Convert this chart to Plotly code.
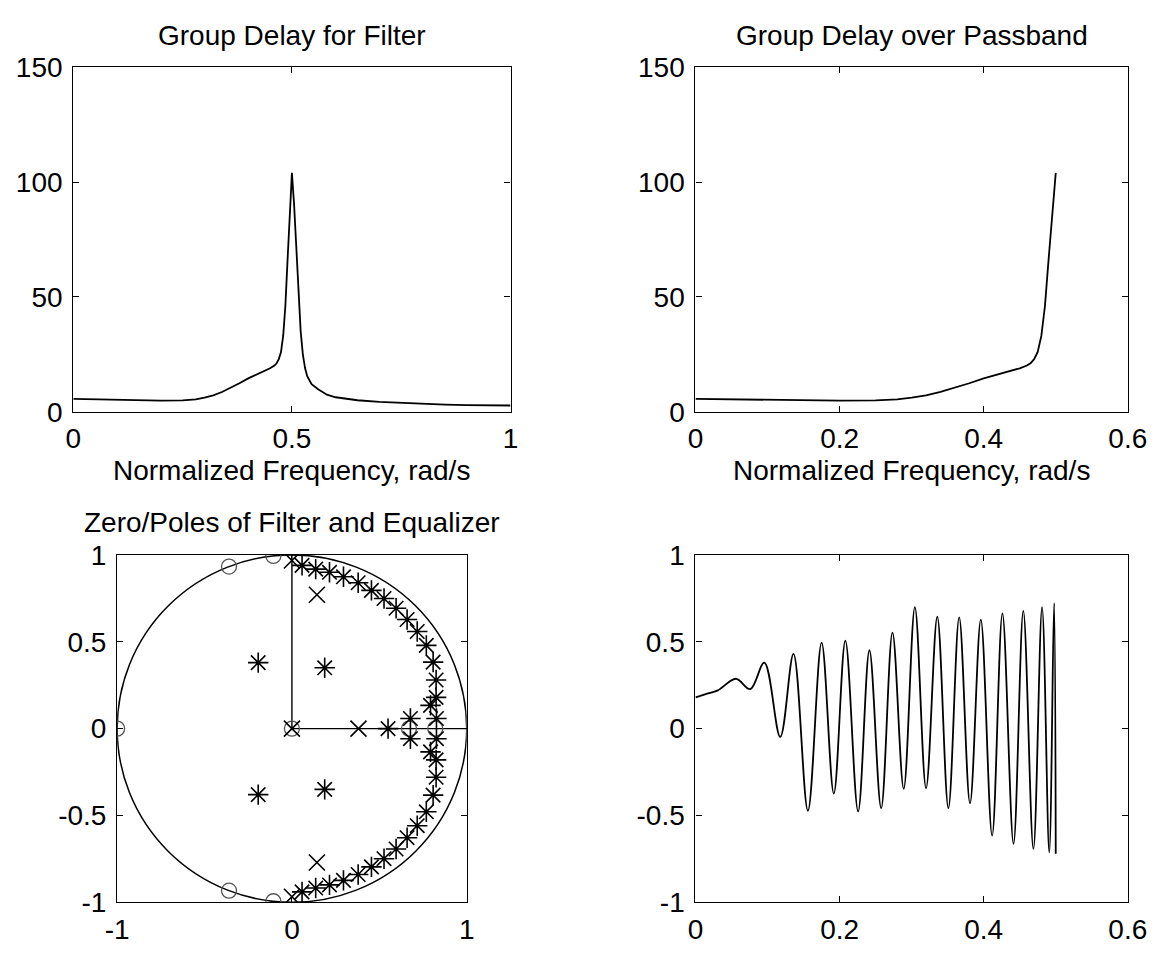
import plotly.graph_objects as go

W, H = 1176, 957
FONT = "Liberation Sans"
FS = 28

# ---- group delay of the filter (samples) against normalized frequency ----
gd_freq = [0.0, 0.05, 0.1, 0.15, 0.2, 0.25, 0.28, 0.3, 0.32, 0.34, 0.36, 0.38,
           0.40, 0.42, 0.44, 0.45, 0.46, 0.465, 0.47, 0.475, 0.48, 0.485, 0.49,
           0.495, 0.5, 0.505, 0.51, 0.515, 0.52, 0.525, 0.53, 0.535, 0.545,
           0.56, 0.58, 0.6, 0.65, 0.7, 0.75, 0.8, 0.85, 0.9, 0.95, 1.0]
gd_delay = [5.6, 5.4, 5.1, 4.9, 4.8, 4.9, 5.4, 6.1, 7.1, 8.6, 10.4, 12.4,
            14.5, 16.3, 17.9, 18.9, 20.1, 21.1, 22.9, 26.0, 33.0, 46.0, 66.0,
            85.0, 104.0, 90.0, 70.0, 50.0, 35.0, 25.0, 19.0, 15.5, 12.0,
            9.8, 7.4, 6.3, 5.0, 4.3, 3.8, 3.4, 3.1, 2.9, 2.8, 2.7]
passband_edge = 0.5

# ---- equalized group delay ripple over the passband (turning points) ----
eq_freq = [0.0, 0.015, 0.031, 0.056, 0.076, 0.0955, 0.1176, 0.136, 0.156,
           0.175, 0.192, 0.208, 0.2257, 0.2414, 0.2577, 0.2734, 0.289, 0.3045,
           0.32, 0.3356, 0.351, 0.366, 0.381, 0.396, 0.4117, 0.426, 0.4414,
           0.455, 0.469, 0.481, 0.491, 0.4977, 0.5]
eq_value = [0.18, 0.20, 0.22, 0.287, 0.227, 0.38, -0.048, 0.43, -0.473,
            0.495, -0.374, 0.507, -0.477, 0.451, -0.458, 0.553, -0.346, 0.70,
            -0.343, 0.644, -0.458, 0.64, -0.43, 0.627, -0.616, 0.663, -0.663,
            0.678, -0.693, 0.70, -0.713, 0.724, -0.72]

# ---- zeros and poles ----
zero_re = [-1.0, -0.36, -0.36, -0.106, -0.106, 0.0, 0.67, 0.82]
zero_im = [0.0, 0.933, -0.933, 0.994, -0.994, 0.0, 0.0, 0.0]

filt_pole_re = [0.0, 0.0, 0.0, 0.143, 0.143, 0.381]
filt_pole_im = [0.0, 0.968, -0.968, 0.771, -0.771, 0.0]

eq_pole_re = [0.058, 0.136, 0.215, 0.295, 0.379, 0.455, 0.527, 0.596, 0.659,
              0.717, 0.769, 0.808, 0.825, 0.825, 0.793, 0.827, 0.678, 0.55,
              -0.193, 0.1875,
              0.058, 0.136, 0.215, 0.295, 0.379, 0.455, 0.527, 0.596, 0.659,
              0.717, 0.769, 0.808, 0.825, 0.825, 0.793, 0.827, 0.678,
              -0.193, 0.1875]
eq_pole_im = [0.94, 0.918, 0.90, 0.874, 0.84, 0.796, 0.749, 0.693, 0.628,
              0.559, 0.479, 0.383, 0.28, 0.18, 0.134, 0.058, 0.058, 0.0,
              0.38, 0.35,
              -0.94, -0.918, -0.90, -0.874, -0.84, -0.796, -0.749, -0.693,
              -0.628, -0.559, -0.479, -0.383, -0.28, -0.18, -0.134, -0.058,
              -0.058, -0.38, -0.35]

# tick values
gd_ticks = [0, 50, 100, 150]
full_fticks = [0, 0.5, 1]
pass_fticks = [0, 0.2, 0.4, 0.6]
unit_ticks = [-1, -0.5, 0, 0.5, 1]
unit_xticks = [-1, 0, 1]


def label(v):
    return "%g" % v


def px_x(a, b):
    return [a / W, b / W]


def px_y(top, bottom):
    return [1 - bottom / H, 1 - top / H]


def frame_axis(vals, rng, domain, anchor, standoff):
    return dict(
        range=rng, domain=domain, anchor=anchor,
        tickvals=vals, ticktext=[label(v) for v in vals],
        showline=True, linecolor="black", linewidth=1.3, mirror="ticks",
        ticks="inside", ticklen=6, tickwidth=1.3, tickcolor="black",
        ticklabelstandoff=standoff,
        showgrid=False, zeroline=False,
        tickfont=dict(family=FONT, size=FS, color="black"),
        fixedrange=True,
    )


# panel frames in pixels: left, right, top, bottom
TL = (63, 512, 54, 410)
TR = (702, 1146, 54, 410)
BL = (108, 467, 558, 917)
BR = (702, 1146, 558, 917)

fig = go.Figure()

line_style = dict(color="black", width=1.8)

fig.add_trace(go.Scatter(x=gd_freq, y=gd_delay, mode="lines", line=line_style,
                         xaxis="x", yaxis="y", showlegend=False))

pb_f = [f for f in gd_freq if f <= passband_edge]
pb_d = [d for f, d in zip(gd_freq, gd_delay) if f <= passband_edge]
fig.add_trace(go.Scatter(x=pb_f, y=pb_d, mode="lines", line=line_style,
                         xaxis="x2", yaxis="y2", showlegend=False))

fig.add_trace(go.Scatter(x=zero_re, y=zero_im, mode="markers",
                         marker=dict(symbol="circle-open", size=15, color="#555555",
                                     line=dict(width=1.3)),
                         xaxis="x3", yaxis="y3", showlegend=False))
fig.add_trace(go.Scatter(x=filt_pole_re, y=filt_pole_im, mode="markers",
                         marker=dict(symbol="x-thin-open", size=16, color="black",
                                     line=dict(width=1.6)),
                         xaxis="x3", yaxis="y3", showlegend=False))
fig.add_trace(go.Scatter(x=eq_pole_re, y=eq_pole_im, mode="markers",
                         marker=dict(symbol="asterisk-open", size=17, color="black",
                                     line=dict(width=1.6)),
                         xaxis="x3", yaxis="y3", showlegend=False))

fig.add_trace(go.Scatter(x=eq_freq, y=eq_value, mode="lines",
                         line=dict(color="black", width=1.8, shape="spline", smoothing=1.0),
                         xaxis="x4", yaxis="y4", showlegend=False))

shapes = [
    dict(type="circle", xref="x3", yref="y3", x0=-1, y0=-1, x1=1, y1=1,
         line=dict(color="black", width=1.5), layer="below"),
    dict(type="line", xref="x3", yref="y3", x0=0, y0=0, x1=0, y1=1,
         line=dict(color="black", width=1.4), layer="below"),
    dict(type="line", xref="x3", yref="y3", x0=0, y0=0, x1=1, y1=0,
         line=dict(color="black", width=1.4), layer="below"),
]

annotations = []


def text_at(txt, frame, dy_px, above=True):
    x0, x1, top, bottom = frame
    cx = (x0 + x1) / 2 / W
    y_px = top - dy_px if above else bottom + dy_px
    annotations.append(dict(text=txt, x=cx, y=1 - y_px / H, xref="paper", yref="paper",
                            xanchor="center", yanchor="middle", showarrow=False,
                            font=dict(family=FONT, size=FS, color="black")))


text_at("Group Delay for Filter", TL, 33)
text_at("Group Delay over Passband", TR, 33)
text_at("Zero/Poles of Filter and Equalizer", BL, 33)
text_at("Normalized Frequency, rad/s", TL, 61, above=False)
text_at("Normalized Frequency, rad/s", TR, 61, above=False)

fig.update_layout(
    width=W, height=H,
    margin=dict(l=0, r=0, t=0, b=0),
    paper_bgcolor="white", plot_bgcolor="white",
    xaxis=frame_axis(full_fticks, [0, 1], px_x(TL[0], TL[1]), "y", 2),
    yaxis=frame_axis(gd_ticks, [0, 150], px_y(TL[2], TL[3]), "x", 4),
    xaxis2=frame_axis(pass_fticks, [0, 0.6], px_x(TR[0], TR[1]), "y2", 2),
    yaxis2=frame_axis(gd_ticks, [0, 150], px_y(TR[2], TR[3]), "x2", 4),
    xaxis3=frame_axis(unit_xticks, [-1, 1], px_x(BL[0], BL[1]), "y3", 2),
    yaxis3=frame_axis(unit_ticks, [-1, 1], px_y(BL[2], BL[3]), "x3", 4),
    xaxis4=frame_axis(pass_fticks, [0, 0.6], px_x(BR[0], BR[1]), "y4", 2),
    yaxis4=frame_axis(unit_ticks, [-1, 1], px_y(BR[2], BR[3]), "x4", 4),
    shapes=shapes,
    annotations=annotations,
    showlegend=False,
)

fig.write_html("out.html")
